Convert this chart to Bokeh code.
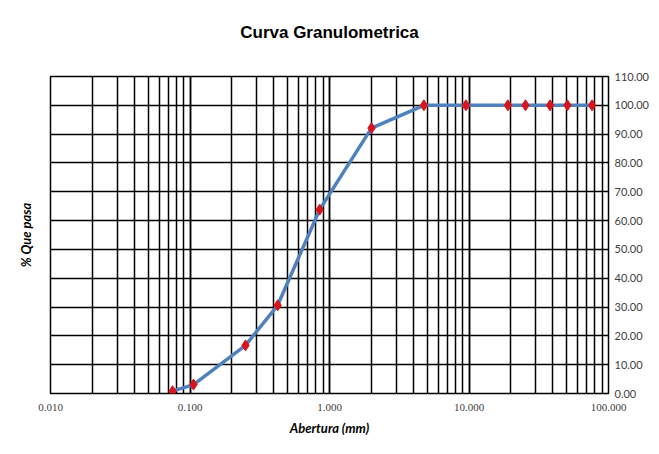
from bokeh.plotting import figure
from bokeh.models import (LinearAxis, FixedTicker, NumeralTickFormatter, Range1d,
                          ColumnDataSource, Title)
from bokeh.embed import file_html
from bokeh.resources import INLINE

# Data (sieve opening in mm, % passing)
abertura = [0.075, 0.106, 0.25, 0.425, 0.85, 2.0, 4.75, 9.5, 19.0, 25.4, 38.1, 50.8, 76.2]
que_pasa = [0.8, 3.1, 16.7, 30.6, 63.8, 92.1, 100.0, 100.0, 100.0, 100.0, 100.0, 100.0, 100.0]
y_ticks = [0, 10, 20, 30, 40, 50, 60, 70, 80, 90, 100, 110]
titulo = "Curva Granulometrica"
eje_x = "Abertura (mm)"
eje_y = "% Que pasa"

src = ColumnDataSource(data=dict(x=abertura, y=que_pasa))

p = figure(width=651, height=438, x_axis_type="log", y_axis_location="right",
           x_range=Range1d(0.01, 100), y_range=Range1d(0, 110),
           output_backend="svg", toolbar_location=None,
           min_border_left=50, min_border_right=36, min_border_top=76, min_border_bottom=45)

p.title = Title(text=titulo + "\n ", align="center", text_font="Liberation Sans",
                text_font_size="17px", text_font_style="bold", text_color="#000000",
                standoff=32)

p.outline_line_color = "#000000"
p.outline_line_width = 1.5

# grid
p.xgrid.grid_line_color = "#000000"
p.xgrid.grid_line_width = 1.5
p.xgrid.grid_line_alpha = 1.0
p.xgrid.minor_grid_line_color = "#000000"
p.xgrid.minor_grid_line_width = 1.5
p.ygrid.grid_line_color = "#000000"
p.ygrid.grid_line_width = 1.5
p.ygrid.grid_line_alpha = 1.0

# x axis
xa = p.xaxis[0]
xa.formatter = NumeralTickFormatter(format="0.000")
xa.axis_line_color = None
xa.major_tick_line_color = None
xa.minor_tick_line_color = None
xa.major_tick_out = 0
xa.minor_tick_out = 0
xa.major_label_text_font = "Liberation Serif"
xa.major_label_text_font_size = "11px"
xa.major_label_text_color = "#404040"
xa.major_label_standoff = 10
xa.axis_label = eje_x
xa.axis_label_text_font = "Lato"
xa.axis_label_text_font_style = "bold italic"
xa.axis_label_text_font_size = "13px"
xa.axis_label_text_color = "#000000"
xa.axis_label_standoff = 6

# y axis (right)
ya = p.yaxis[0]
ya.ticker = FixedTicker(ticks=y_ticks)
ya.formatter = NumeralTickFormatter(format="0.00")
ya.axis_line_color = None
ya.major_tick_line_color = None
ya.minor_tick_line_color = None
ya.major_tick_out = 0
ya.minor_tick_out = 0
ya.axis_label_standoff = 0
ya.major_label_text_font = "Lato"
ya.major_label_text_font_size = "11px"
ya.major_label_text_color = "#404040"
ya.major_label_standoff = 6
p.ygrid.ticker = FixedTicker(ticks=y_ticks)

# left axis carrying only the label
la = LinearAxis(ticker=FixedTicker(ticks=[]), axis_line_color=None,
                major_tick_line_color=None, minor_tick_line_color=None,
                major_tick_out=0, minor_tick_out=0,
                major_label_text_font_size="0px",
                axis_label=eje_y, axis_label_text_font="Lato",
                axis_label_text_font_style="bold italic", axis_label_text_font_size="13px",
                axis_label_text_color="#000000", axis_label_standoff=17)
p.add_layout(la, "left")

p.line("x", "y", source=src, line_color="#4F81BD", line_width=3.5)
p.scatter("x", "y", source=src, marker="diamond", size=11, fill_color="#D8141C",
          line_color="#D8141C")

open("out.html", "w").write(file_html(p, INLINE))
